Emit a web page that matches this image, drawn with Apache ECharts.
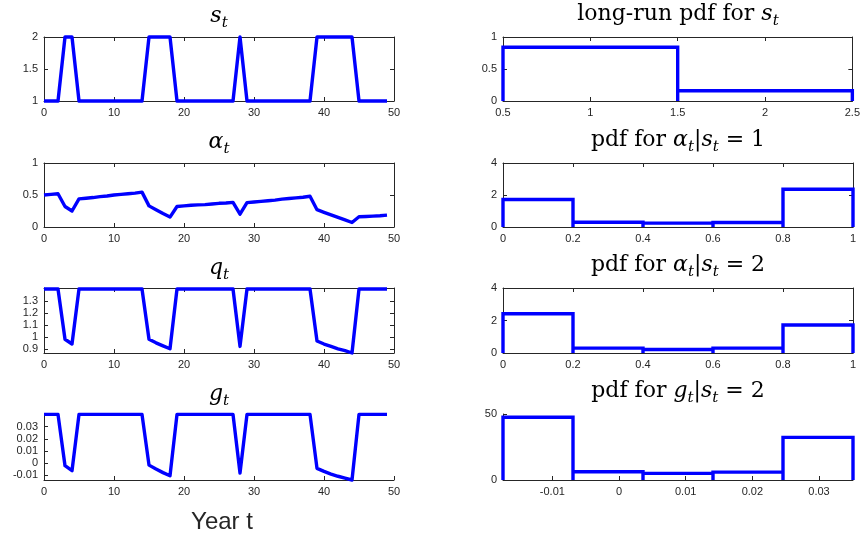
<!DOCTYPE html>
<html><head><meta charset="utf-8">
<script src="https://cdn.jsdelivr.net/npm/echarts@6/dist/echarts.min.js"></script>
<style>html,body{margin:0;padding:0;background:#fff}#c{width:863px;height:540px}</style>
</head><body><div id="c"></div>
<script>
// ---- data ----
const years = [0,1,2,3,4,5,6,7,8,9,10,11,12,13,14,15,16,17,18,19,20,21,22,23,24,25,26,27,28,29,30,31,32,33,34,35,36,37,38,39,40,41,42,43,44,45,46,47,48,49];
const sSeries = [1,1,1,2,2, 1,1,1,1,1,1,1,1,1,1, 2,2,2,2, 1,1,1,1,1,1,1,1,1, 2, 1,1,1,1,1,1,1,1,1,1, 2,2,2,2,2,2, 1,1,1,1,1];
const alphaSeries = [0.50,0.51,0.52,0.32,0.25, 0.44,0.45,0.46,0.475,0.485,0.50,0.51,0.52,0.53,0.545, 0.33,0.27,0.21,0.155, 0.32,0.33,0.34,0.345,0.35,0.36,0.37,0.375,0.385, 0.20, 0.38,0.39,0.40,0.41,0.42,0.435,0.445,0.455,0.465,0.48, 0.27,0.23,0.19,0.15,0.11,0.07, 0.16,0.165,0.17,0.175,0.185];
const qSeries = [1.4,1.4,1.4,0.98,0.94, 1.4,1.4,1.4,1.4,1.4,1.4,1.4,1.4,1.4,1.4, 0.98,0.95,0.925,0.9, 1.4,1.4,1.4,1.4,1.4,1.4,1.4,1.4,1.4, 0.92, 1.4,1.4,1.4,1.4,1.4,1.4,1.4,1.4,1.4,1.4, 0.965,0.94,0.92,0.9,0.885,0.865, 1.4,1.4,1.4,1.4,1.4];
const gSeries = [0.0402,0.0402,0.0402,-0.0023,-0.0064, 0.0402,0.0402,0.0402,0.0402,0.0402,0.0402,0.0402,0.0402,0.0402,0.0402, -0.0018,-0.005,-0.008,-0.0106, 0.0402,0.0402,0.0402,0.0402,0.0402,0.0402,0.0402,0.0402,0.0402, -0.0083, 0.0402,0.0402,0.0402,0.0402,0.0402,0.0402,0.0402,0.0402,0.0402,0.0402, -0.0045,-0.007,-0.0092,-0.011,-0.0125,-0.0141, 0.0402,0.0402,0.0402,0.0402,0.0402];

const sEdges = [0.5,1.5,2.5];
const sPdf = [0.84,0.16];
const aEdges = [0,0.2,0.4,0.6,0.8,1.0];
const a1Pdf = [1.72,0.30,0.24,0.28,2.36];
const a2Pdf = [2.42,0.30,0.22,0.30,1.72];
const gEdges = [-0.0174,-0.0069,0.0036,0.0141,0.0246,0.0351];
const gPdf = [47.5,6.2,5.0,6.0,32.3];

const qTicks = [0.9,1.0,1.1,1.2,1.3];
const gTicks = [-0.01,0,0.01,0.02,0.03];
const gHistTicks = [-0.01,0,0.01,0.02,0.03];

// ---- layout ----
const rows = [[37,101],[163,227],[288,353],[414,480]];
const cols = [[44,394],[503,853]];
const W = 863, H = 540;
const AX = '#262626';
const BLUE = '#0000ff';

const grids = [], xAxes = [], yAxes = [], series = [];
function addPanel(r, c, xo, yo, data, boxed, join){
  const gi = grids.length;
  grids.push({left: cols[c][0], width: cols[c][1]-cols[c][0], top: rows[r][0], height: rows[r][1]-rows[r][0], containLabel:false});
  const tick = {show:true, inside:true, length:4, lineStyle:{color:AX,width:1}};
  const line = {show:true, onZero:false, lineStyle:{color:AX,width:1}};
  const lab = {color:AX, fontSize:11, fontFamily:'Liberation Sans, Arial, sans-serif'};
  const xBase = Object.assign({type:'value', gridIndex:gi, splitLine:{show:false}}, xo.range);
  const yBase = Object.assign({type:'value', gridIndex:gi, splitLine:{show:false}}, yo.range);
  const xi = xAxes.length;
  xAxes.push(Object.assign({}, xBase, {position:'bottom', axisLine:line,
    axisTick:Object.assign({}, tick, xo.ticks?{customValues:xo.ticks}:{}),
    axisLabel:Object.assign({}, lab, {margin:6, showMinLabel:true, showMaxLabel:true}, xo.ticks?{customValues:xo.ticks}:{}, xo.fmt?{formatter:xo.fmt}:{})}));
  const yi = yAxes.length;
  yAxes.push(Object.assign({}, yBase, {position:'left', axisLine:line,
    axisTick:Object.assign({}, tick, yo.ticks?{customValues:yo.ticks}:{}),
    axisLabel:Object.assign({}, lab, {margin:6, showMinLabel:true, showMaxLabel:true}, yo.ticks?{customValues:yo.ticks}:{}, yo.fmt?{formatter:yo.fmt}:{})}));
  if (boxed){
    xAxes.push(Object.assign({}, xBase, {position:'top', axisLine:line,
      axisTick:Object.assign({}, tick, xo.ticks?{customValues:xo.ticks}:{}), axisLabel:{show:false}}));
    yAxes.push(Object.assign({}, yBase, {position:'right', axisLine:line,
      axisTick:Object.assign({}, tick, yo.ticks?{customValues:yo.ticks}:{}), axisLabel:{show:false}}));
  }
  series.push({type:'line', xAxisIndex:xi, yAxisIndex:yi, data:data, symbol:'none', showSymbol:false,
    clip:false, lineStyle:{color:BLUE, width:3.4, join:join, cap:'butt'}, z:5, animation:false});
}
function ts(vals){ return years.map((t,i)=>[t, vals[i]]); }
function outline(edges, vals){
  const pts = [[edges[0],0]];
  for (let i=0;i<vals.length;i++){ pts.push([edges[i],vals[i]],[edges[i+1],vals[i]],[edges[i+1],0]); }
  return pts;
}
const xYear = {range:{min:0,max:50,interval:10}};
addPanel(0,0, xYear, {range:{min:1,max:2,interval:0.5}}, ts(sSeries), true, 'round');
addPanel(1,0, xYear, {range:{min:0,max:1,interval:0.5}}, ts(alphaSeries), true, 'round');
addPanel(2,0, xYear, {range:{min:0.865,max:1.408}, ticks:qTicks, fmt:v=>String(+v.toFixed(2))}, ts(qSeries), true, 'round');
addPanel(3,0, xYear, {range:{min:-0.0141,max:0.0405}, ticks:gTicks, fmt:v=>String(+v.toFixed(3))}, ts(gSeries), false, 'round');
addPanel(0,1, {range:{min:0.5,max:2.5,interval:0.5}}, {range:{min:0,max:1,interval:0.5}}, outline(sEdges,sPdf), true, 'miter');
addPanel(1,1, {range:{min:0,max:1,interval:0.2}}, {range:{min:0,max:4,interval:2}}, outline(aEdges,a1Pdf), true, 'miter');
addPanel(2,1, {range:{min:0,max:1,interval:0.2}}, {range:{min:0,max:4,interval:2}}, outline(aEdges,a2Pdf), true, 'miter');
addPanel(3,1, {range:{min:-0.0174,max:0.0351}, ticks:gHistTicks, fmt:v=>String(+v.toFixed(3))}, {range:{min:0,max:50,interval:50}}, outline(gEdges,gPdf), false, 'miter');

// ---- titles ----
const SERIF = 'DejaVu Serif, Liberation Serif, serif';
const rich = {
  n:{fontFamily:SERIF, fontSize:22, color:'#000', verticalAlign:'bottom', padding:[0,0,4,0]},
  i:{fontFamily:SERIF, fontSize:22, fontStyle:'italic', color:'#000', verticalAlign:'bottom', padding:[0,0,4,0]},
  sub:{fontFamily:SERIF, fontSize:15, fontStyle:'italic', color:'#000', verticalAlign:'bottom'}
};
const titles = [
  ['{i|s}{sub|t}', 219, 18],
  ['{i|α}{sub|t}', 219, 144],
  ['{i|q}{sub|t}', 219, 270],
  ['{i|g}{sub|t}', 219, 396],
  ['{n|long-run pdf for }{i|s}{sub|t}', 678, 16],
  ['{n|pdf for }{i|α}{sub|t}{n||}{i|s}{sub|t}{n| = 1}', 678, 142],
  ['{n|pdf for }{i|α}{sub|t}{n||}{i|s}{sub|t}{n| = 2}', 678, 267],
  ['{n|pdf for }{i|g}{sub|t}{n||}{i|s}{sub|t}{n| = 2}', 678, 393]
];
const graphic = titles.map(t=>({type:'text', x:t[1], y:t[2], silent:true, z:10,
  style:{text:t[0], rich:rich, align:'center', verticalAlign:'middle'}}));
graphic.push({type:'text', x:222, y:522, silent:true,
  style:{text:'Year t', fontFamily:'Liberation Sans, Arial, sans-serif', fontSize:24, fill:AX, align:'center', verticalAlign:'middle'}});

const chart = echarts.init(document.getElementById('c'), null, {renderer:'canvas', width:W, height:H});
chart.setOption({animation:false, backgroundColor:'#fff', grid:grids, xAxis:xAxes, yAxis:yAxes, series:series, graphic:graphic});
</script></body></html>
